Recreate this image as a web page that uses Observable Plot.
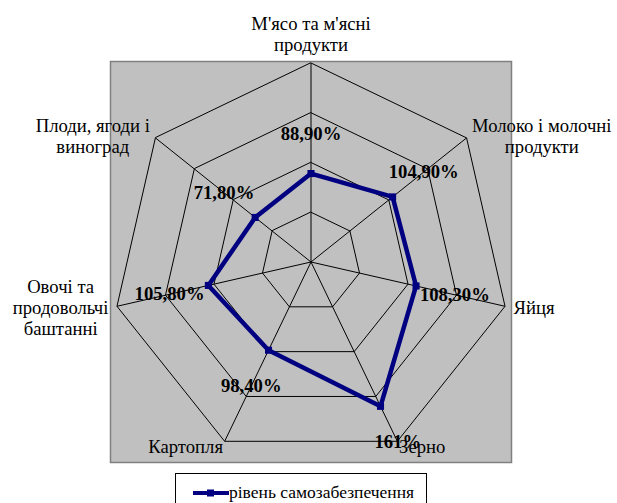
<!DOCTYPE html>
<html>
<head>
<meta charset="utf-8">
<script src="https://cdn.jsdelivr.net/npm/d3@7"></script>
<script src="https://cdn.jsdelivr.net/npm/@observablehq/plot@0.6"></script>
<style>
  html, body { margin: 0; padding: 0; background: #fff; }
  body { width: 617px; height: 503px; position: relative; overflow: hidden; font-family: "Liberation Serif", "Times New Roman", Times, "DejaVu Serif", serif; }
  #legend { position: absolute; left: 175px; top: 473px; width: 252px; height: 40px; border: 1px solid #000; box-sizing: border-box; background: #fff; }
  #legend .item { position: absolute; left: 16px; top: 8px; display: flex; align-items: center; font-size: 17.5px; color: #000; white-space: nowrap; }
</style>
</head>
<body>
<div id="chart"></div>
<div id="legend"><div class="item"><svg width="37" height="12"><line x1="1" y1="6" x2="37" y2="6" stroke="#000080" stroke-width="4"/><rect x="15" y="2.5" width="7" height="7" fill="#000080"/></svg><span>рівень самозабезпечення</span></div></div>
<script>
const categories = ["М'ясо та м'ясні\nпродукти", "Молоко і молочні\nпродукти", "Яйця", "Зерно", "Картопля", "Овочі та\nпродовольчі\nбаштанні", "Плоди, ягоди і\nвиноград"];
const values = [88.9, 104.9, 108.3, 161, 98.4, 105.8, 71.8];
const valueLabels = ["88,90%", "104,90%", "108,30%", "161%", "98,40%", "105,80%", "71,80%"];
const ringLevels = [50, 100, 150, 200];
const seriesName = "рівень самозабезпечення";

const FONT = "'Liberation Serif', 'Times New Roman', Times, 'DejaVu Serif', serif";
const FS = 18.67;
const W = 617, H = 470;
const ML = 110, MR = 106, MT = 61, MB = 8;
const D = 201.5;
const k = (W - ML - MR) / (2 * D); // px per unit
const n = categories.length;
const ang = i => (2 * Math.PI * i) / n;
const maxR = ringLevels[ringLevels.length - 1];

const rings = ringLevels.flatMap(level => categories.map((c, i) => ({level, x: level * Math.sin(ang(i)), y: level * Math.cos(ang(i))})));
const spokes = categories.map((c, i) => ({x1: 0, y1: 0, x2: maxR * Math.sin(ang(i)), y2: maxR * Math.cos(ang(i))}));
const pts = values.map((v, i) => ({v, x: v * Math.sin(ang(i)), y: v * Math.cos(ang(i))}));
const vlab = values.map((v, i) => ({t: valueLabels[i], x: (v + 40) * Math.sin(ang(i)), y: (v + 40) * Math.cos(ang(i))}));

const ctx = document.createElement("canvas").getContext("2d");
ctx.font = FS + "px " + FONT;
const LH = 21;
const clab = categories.map((c, i) => {
  const s = Math.sin(ang(i)), co = Math.cos(ang(i));
  const lines = c.split("\n");
  const w = Math.max(...lines.map(l => ctx.measureText(l).width));
  let x = maxR * s, y = maxR * co;
  if (Math.abs(s) < 0.1) {
    y += (8 + lines.length * LH / 2) / k;
  } else {
    const gap = 9 * s * s;
    x += Math.sign(s) * (w / 2 + gap) / k;
    y += (co * 6) / k * (co < 0 ? 1 : 0.5);
  }
  return {t: c, x, y};
});

const plot = Plot.plot({
  width: W, height: H,
  marginLeft: ML, marginRight: MR, marginTop: MT, marginBottom: MB,
  x: {domain: [-D, D], axis: null},
  y: {domain: [-D, D], axis: null},
  style: {fontFamily: FONT, background: "transparent", overflow: "visible"},
  marks: [
    Plot.frame({fill: "#c0c0c0", stroke: "#808080", strokeWidth: 1.5}),
    Plot.line(rings, {x: "x", y: "y", z: "level", curve: "linear-closed", stroke: "#000", strokeWidth: 1}),
    Plot.link(spokes, {x1: "x1", y1: "y1", x2: "x2", y2: "y2", stroke: "#000", strokeWidth: 1}),
    Plot.line(pts, {x: "x", y: "y", curve: "linear-closed", stroke: "#000080", strokeWidth: 4.5, strokeLinejoin: "miter"}),
    Plot.dot(pts, {x: "x", y: "y", symbol: "square", r: 4, fill: "#000080", stroke: "none"}),
    Plot.text(vlab, {x: "x", y: "y", text: "t", fontSize: FS, fontWeight: "bold", fontFamily: FONT, fill: "#000", textAnchor: "middle", lineAnchor: "middle"}),
    Plot.text(clab, {x: "x", y: "y", text: "t", fontSize: FS, fontFamily: FONT, fill: "#000", textAnchor: "middle", lineAnchor: "middle", lineHeight: LH / FS})
  ]
});
document.getElementById("chart").appendChild(plot);
</script>
</body>
</html>
